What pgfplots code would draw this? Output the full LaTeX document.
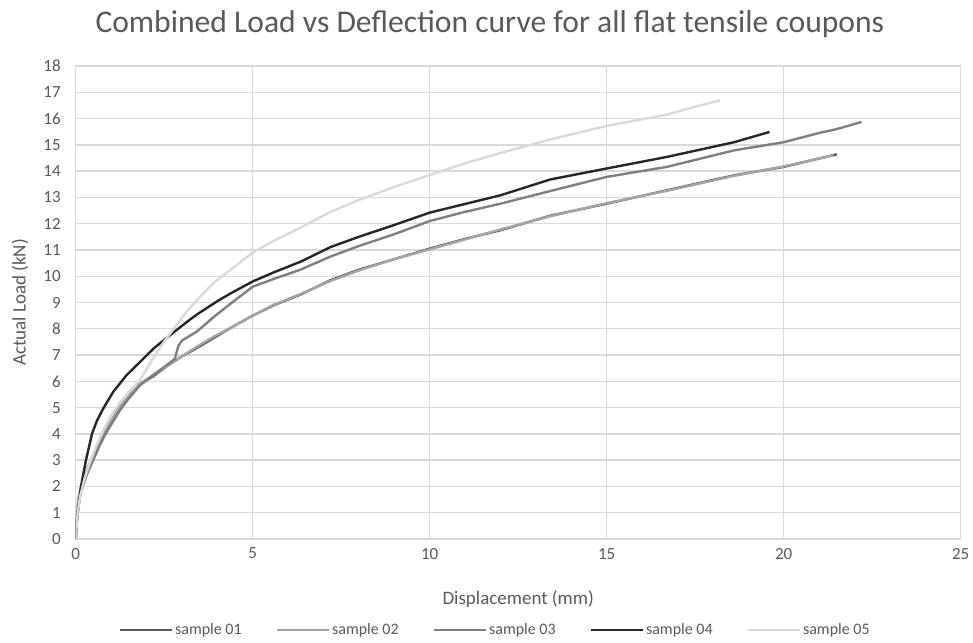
\documentclass[border=0pt]{standalone}
\usepackage{fontspec}
\setmainfont{Carlito}
\usepackage{pgfplots}
\usepackage{pgfplotstable}
\pgfplotsset{compat=1.18}

\definecolor{txt}{HTML}{595959}
\definecolor{grd}{HTML}{D9D9D9}
\definecolor{sOne}{HTML}{595959}
\definecolor{sTwo}{HTML}{A5A5A5}
\definecolor{sThree}{HTML}{7F7F7F}
\definecolor{sFour}{HTML}{262626}
\definecolor{sFive}{HTML}{D9D9D9}

% displacement (mm)  load (kN)
\pgfplotstableread{
x y
0 0
0.03 0.8
0.08 1.5
0.15 1.9
0.23 2.2
0.35 2.6
0.49 3.0
0.65 3.5
0.83 4.0
1.0 4.4
1.25 5.0
1.5 5.4
1.82 5.9
2.2 6.2
2.6 6.6
3.0 6.95
3.4 7.25
3.9 7.65
4.4 8.05
5.0 8.5
5.6 8.9
6.35 9.3
7.2 9.85
8.0 10.25
9.0 10.65
10.0 11.05
11.0 11.42
12.0 11.75
13.4 12.3
15.0 12.76
16.7 13.27
18.6 13.84
20.0 14.16
21.5 14.64
}\sampleone

\pgfplotstableread{
x y
0 0
0.03 0.9
0.08 1.6
0.15 2.0
0.22 2.3
0.33 2.7
0.46 3.1
0.62 3.6
0.78 4.05
1.0 4.5
1.22 5.0
1.5 5.45
1.8 5.9
2.2 6.25
2.6 6.6
3.0 6.95
3.4 7.3
3.9 7.7
4.4 8.05
5.0 8.5
5.6 8.92
6.35 9.32
7.2 9.82
8.0 10.22
9.0 10.65
10.0 11.02
11.0 11.4
12.0 11.78
13.4 12.28
15.0 12.78
16.7 13.25
18.6 13.82
20.0 14.18
21.4 14.6
}\sampletwo

\pgfplotstableread{
x y
0 0
0.03 0.7
0.1 1.5
0.2 2.0
0.3 2.4
0.45 2.9
0.62 3.4
0.8 3.9
1.0 4.35
1.25 4.9
1.5 5.35
1.82 5.85
2.2 6.25
2.6 6.65
2.8 6.85
2.9 7.35
3.0 7.55
3.43 7.9
3.9 8.45
4.38 8.96
5.0 9.6
5.6 9.9
6.35 10.25
7.2 10.75
8.0 11.15
9.0 11.6
10.0 12.1
11.0 12.45
12.0 12.76
13.4 13.24
15.0 13.78
16.7 14.16
18.6 14.79
20.0 15.1
21.0 15.45
21.5 15.6
22.2 15.87
}\samplethree

\pgfplotstableread{
x y
0 0
0.03 0.6
0.06 1.0
0.15 2.0
0.29 3.0
0.46 4.0
0.6 4.5
0.78 4.97
1.06 5.6
1.44 6.24
1.82 6.74
2.2 7.25
2.67 7.76
3.14 8.26
3.43 8.55
4.0 9.05
4.38 9.35
5.0 9.8
5.6 10.15
6.35 10.55
7.2 11.11
8.0 11.5
9.0 11.95
10.0 12.42
11.0 12.75
12.0 13.08
13.4 13.68
15.0 14.1
16.7 14.54
18.6 15.1
19.6 15.49
}\samplefour

\pgfplotstableread{
x y
0 0
0.05 0.9
0.12 1.6
0.25 2.3
0.4 2.9
0.6 3.6
0.8 4.2
1.0 4.7
1.25 5.2
1.5 5.6
1.84 6.1
2.2 6.9
2.49 7.5
2.8 8.05
3.1 8.6
3.43 9.1
3.9 9.75
4.38 10.25
5.0 10.9
5.6 11.35
6.35 11.85
7.2 12.45
8.0 12.9
9.0 13.4
10.0 13.85
11.0 14.3
12.0 14.69
13.4 15.2
15.0 15.72
16.7 16.15
17.5 16.45
18.2 16.69
}\samplefive

\begin{document}
\begin{tikzpicture}
\begin{axis}[
  name=ax,
  scale only axis,
  width=442.5pt, height=236.5pt,
  xmin=0, xmax=25, ymin=0, ymax=18,
  xtick={0,5,...,25}, ytick={0,1,...,18},
  grid=major,
  major grid style={draw=grd, line width=0.7pt},
  axis line style={draw=none},
  major tick length=0pt,
  /pgf/number format/assume math mode=true,
  tick label style={font=\fontsize{8.5}{10}\selectfont, text=txt},
  xticklabel style={yshift=-1pt},
  yticklabel style={xshift=-4pt},
  title={Combined Load vs Deflection curve for all flat tensile coupons},
  title style={at={(axis description cs:0.468,1)}, anchor=center, yshift=15pt,
    font=\fontsize{15.8}{18}\selectfont, text=txt},
  xlabel={Displacement (mm)},
  ylabel={Actual Load (kN)},
  label style={font=\fontsize{9.5}{11}\selectfont, text=txt},
  xlabel style={at={(axis description cs:0.5,-0.127)}, anchor=center},
  ylabel style={at={(axis description cs:-0.063,0.5)}, anchor=center},
  legend style={at={(axis description cs:0.474,-0.1924)}, anchor=center,
    draw=none, font=\fontsize{8}{10}\selectfont, text=txt,
    nodes={inner xsep=1pt},
    /tikz/every even column/.append style={column sep=16pt}},
  legend columns=5,
  legend image code/.code={\draw[#1] (0pt,0pt) -- (26pt,0pt);},
  every axis plot/.append style={line width=1.2pt},
]
\addplot[sOne, no marks] table {\sampleone};
\addplot[sTwo, no marks] table {\sampletwo};
\addplot[sThree, no marks] table {\samplethree};
\addplot[sFour, no marks] table {\samplefour};
\addplot[sFive, no marks] table {\samplefive};
\legend{sample 01, sample 02, sample 03, sample 04, sample 05}
\end{axis}
\pgfresetboundingbox
\path ([xshift=-37.85pt,yshift=-51.5pt]ax.south west) rectangle ([xshift=6.15pt,yshift=33pt]ax.north east);
\end{tikzpicture}
\end{document}
